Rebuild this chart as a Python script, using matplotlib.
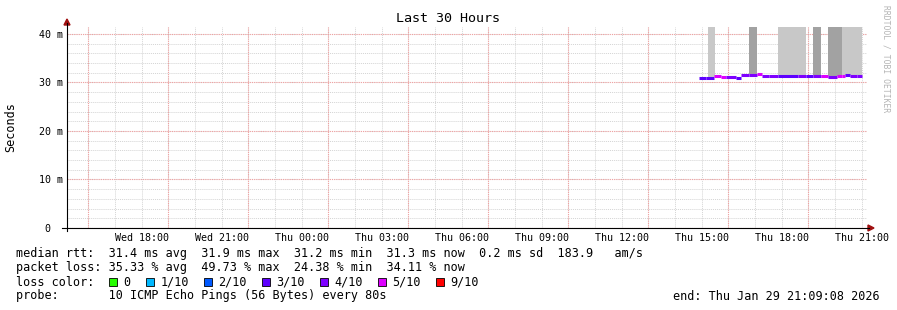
import matplotlib
matplotlib.use("Agg")
import matplotlib.pyplot as plt
from matplotlib.patches import Polygon, Rectangle
from matplotlib.lines import Line2D
import numpy as np

# time axis in hours since Wed 00:00 (Thu = 24+)
t_start = 15.2
t_end = 45.2
tick_hours = [18, 21, 24, 27, 30, 33, 36, 39, 42, 45]
tick_labels = ["Wed 18:00", "Wed 21:00", "Thu 00:00", "Thu 03:00", "Thu 06:00",
               "Thu 09:00", "Thu 12:00", "Thu 15:00", "Thu 18:00", "Thu 21:00"]
y_ticks = [0, 10, 20, 30, 40]
y_labels = ["0  ", "10 m", "20 m", "30 m", "40 m"]

# median rtt (ms) per interval, with packets lost out of 10
edges = [38.89, 39.18, 39.45, 39.71, 39.93, 40.27, 40.46, 40.76, 41.06, 41.25, 41.51,
         41.85, 42.63, 42.90, 43.16, 43.46, 43.72, 44.06, 44.25, 44.36, 44.58, 44.81, 45.03]
median = [31.0, 31.0, 31.3, 31.2, 31.1, 30.9, 31.5, 31.5, 31.8, 31.4, 31.3,
          31.3, 31.3, 31.3, 31.3, 31.3, 31.2, 31.3, 31.3, 31.6, 31.4, 31.3]
lost = [3, 3, 5, 5, 4, 3, 4, 4, 5, 4, 4, 3, 4, 3, 4, 5, 4, 5, 5, 3, 4, 4]

# smoke (spread of pings), runs past top of graph
smoke_start = [39.25, 41.85, 44.25, 40.76, 43.16, 43.72]
smoke_end = [39.50, 42.90, 45.03, 41.06, 43.46, 44.25]
smoke_dark = [False, False, False, True, True, True]

loss_names = ["0", "1/10", "2/10", "3/10", "4/10", "5/10", "9/10"]
loss_colors = ["#26ff00", "#00b8ff", "#0059ff", "#5e00ff", "#7e00ff", "#dd00ff", "#ff0000"]


def loss_color(n):
    if n >= 9:
        return loss_colors[6]
    if n >= 5:
        return loss_colors[5]
    return loss_colors[n]


W, H = 897, 310
def fx(x):
    return x / W
def fy(y):
    return 1 - y / H

plt.rcParams["font.family"] = ["DejaVu Sans Mono"]

fig = plt.figure(figsize=(W / 100, H / 100), dpi=100)
fig.patch.set_facecolor("white")
ax = fig.add_axes([fx(67), fy(228), 800 / W, (228 - 26.7) / H])
ax.set_xlim(t_start, t_end)
ax.set_ylim(0, 41.5)
for s in ax.spines.values():
    s.set_visible(False)

# grid
for h in np.arange(15, 46, 1):
    ax.axvline(h, color="#d4d4d4", lw=0.7, ls=(0, (1, 1)), zorder=0)
for v in np.arange(0, 42, 2):
    ax.axhline(v, color="#d4d4d4", lw=0.7, ls=(0, (1, 1)), zorder=0)
for h in np.arange(16, 46, 3):
    ax.axvline(h, color="#f2a0a0", lw=0.8, ls=(0, (1, 1)), zorder=1)
for v in y_ticks:
    ax.axhline(v, color="#f2a0a0", lw=0.8, ls=(0, (1, 1)), zorder=1)

# smoke
for a, b, d in zip(smoke_start, smoke_end, smoke_dark):
    i = np.searchsorted(edges, a + 0.001) - 1
    i = max(0, min(i, len(median) - 1))
    base = median[i] + 0.2
    ax.bar(a, 50 - base, width=b - a, bottom=base, align="edge",
           color="#a2a2a2" if d else "#c8c8c8", linewidth=0, zorder=2)

# median line coloured by loss
for i in range(len(median)):
    ax.hlines(median[i], edges[i], edges[i + 1], colors=loss_color(lost[i]),
              lw=2.2, capstyle="butt", zorder=3)

ax.set_xticks(tick_hours)
ax.set_xticklabels(tick_labels)
ax.set_yticks(y_ticks)
ax.set_yticklabels(y_labels)
ax.tick_params(axis="x", length=0, pad=3.5, labelsize=7.2)
ax.tick_params(axis="y", length=0, pad=3, labelsize=7.2)

# axes with arrows
fig.add_artist(Line2D([fx(67), fx(67)], [fy(231), fy(23)], color="black", lw=0.8))
fig.add_artist(Line2D([fx(62), fx(869)], [fy(228), fy(228)], color="black", lw=0.8))
fig.add_artist(Polygon([[fx(64), fy(25)], [fx(70), fy(25)], [fx(67), fy(19)]],
                       closed=True, color="#a01010"))
fig.add_artist(Polygon([[fx(868), fy(225)], [fx(868), fy(231)], [fx(874), fy(228)]],
                       closed=True, color="#a01010"))

fig.text(fx(448), fy(19), "Last 30 Hours", ha="center", va="center", fontsize=9.6)
fig.text(fx(11), fy(127), "Seconds", rotation=90, ha="center", va="center", fontsize=8.5)
fig.text(fx(886), fy(5), "RRDTOOL / TOBI OETIKER", rotation=-90, ha="center", va="top",
         fontsize=5.8, color="#b4b4b4")

fs = 8.5
fig.text(fx(16), fy(254), "median rtt:  31.4 ms avg  31.9 ms max  31.2 ms min  31.3 ms now  0.2 ms sd  183.9   am/s",
         ha="left", va="center", fontsize=fs)
fig.text(fx(16), fy(268), "packet loss: 35.33 % avg  49.73 % max  24.38 % min  34.11 % now",
         ha="left", va="center", fontsize=fs)
fig.text(fx(16), fy(282), "loss color:", ha="left", va="center", fontsize=fs)
box_x = [108.5, 146, 203.5, 261.5, 319.5, 377.5, 435.5]
for bx, name, col in zip(box_x, loss_names, loss_colors):
    fig.add_artist(Rectangle((fx(bx), fy(286)), 8 / W, 8 / H, facecolor=col,
                             edgecolor="black", lw=0.6))
    fig.text(fx(bx + 15), fy(282), name, ha="left", va="center", fontsize=fs)
fig.text(fx(16), fy(296), "probe:       10 ICMP Echo Pings (56 Bytes) every 80s",
         ha="left", va="center", fontsize=fs)
fig.text(fx(880), fy(296), "end: Thu Jan 29 21:09:08 2026", ha="right", va="center", fontsize=fs)

fig.savefig("out.png", dpi=100, facecolor="white")
